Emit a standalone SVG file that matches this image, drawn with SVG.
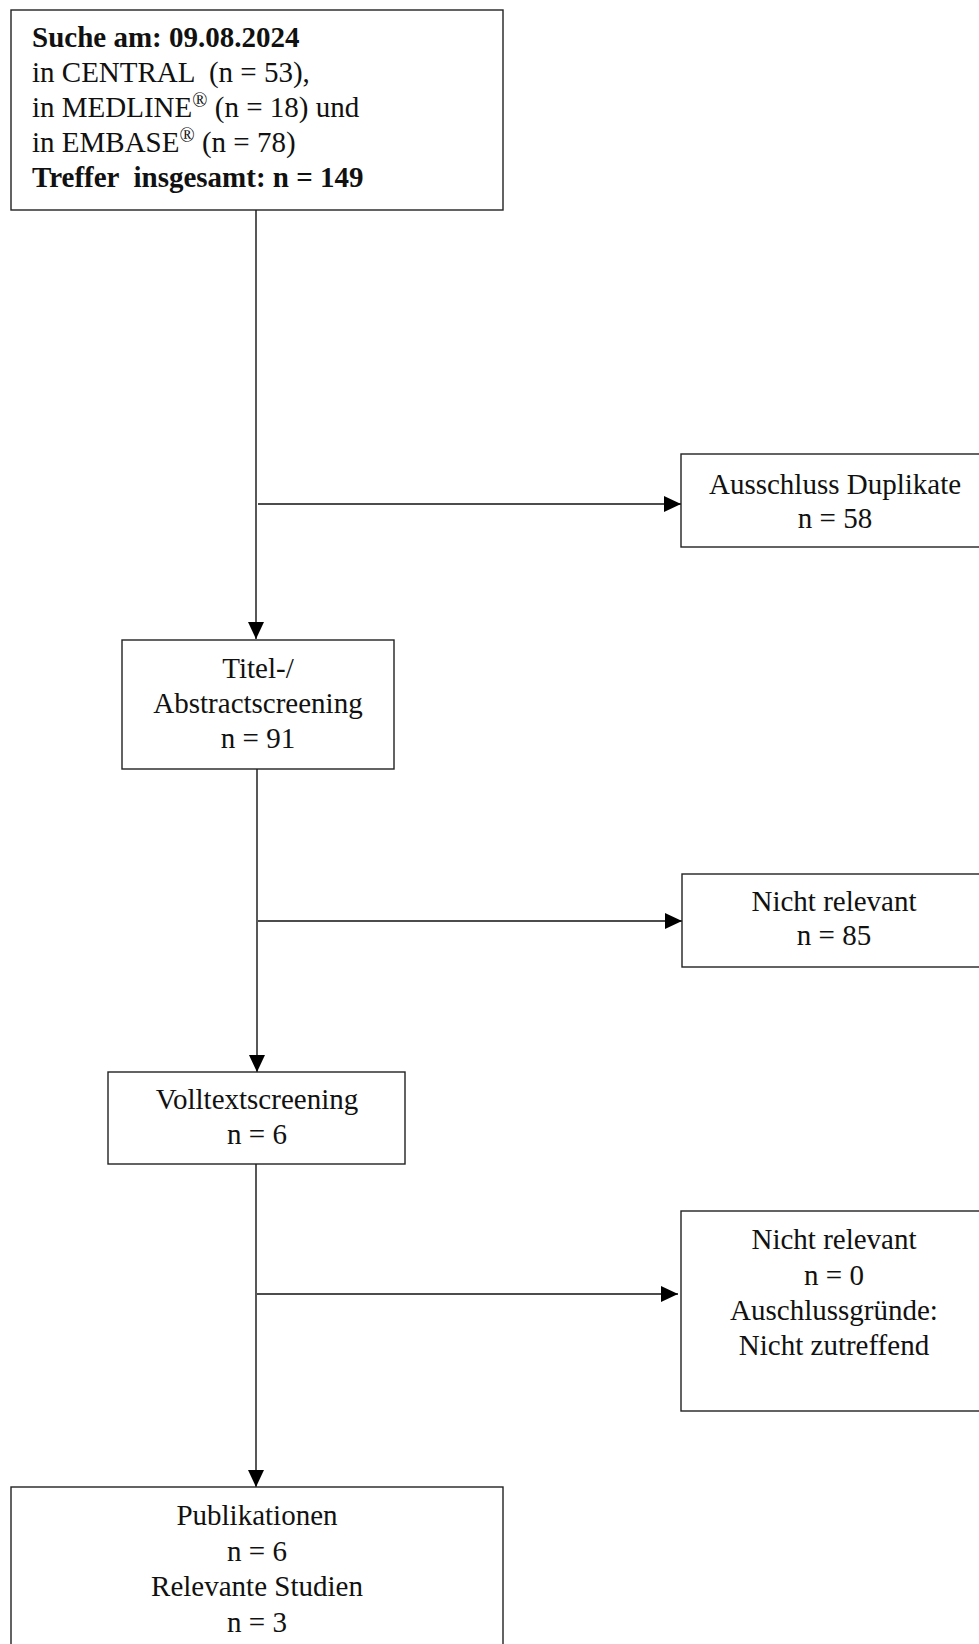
<svg xmlns="http://www.w3.org/2000/svg" width="979" height="1644" viewBox="0 0 979 1644">
<style>
.box{fill:#fff;stroke:#222;stroke-width:1.4}
.t{font-family:"Liberation Serif","Times New Roman",serif;font-size:29px;fill:#111;white-space:pre}
.c{text-anchor:middle}
.b{font-weight:bold}
.sup{font-size:20px}
.ln{stroke:#111;stroke-width:1.4;fill:none}
</style>
<defs>
<marker id="ah" viewBox="0 0 17 16" refX="17" refY="8" markerWidth="17" markerHeight="16" markerUnits="userSpaceOnUse" orient="auto">
<path d="M0,0 L17,8 L0,16 Z" fill="#000"/>
</marker>
</defs>
<g id="connectors">
<path class="ln" d="M256,210 V639" marker-end="url(#ah)"/>
<path class="ln" d="M258,504 H681" marker-end="url(#ah)"/>
<path class="ln" d="M257,769 V1072" marker-end="url(#ah)"/>
<path class="ln" d="M258,921 H682" marker-end="url(#ah)"/>
<path class="ln" d="M256,1164 V1487" marker-end="url(#ah)"/>
<path class="ln" d="M257,1294 H678" marker-end="url(#ah)"/>
</g>
<g id="search">
<rect class="box" x="11" y="10" width="492" height="200"/>
<text class="t b" x="32" y="47">Suche am: 09.08.2024</text>
<text class="t" x="32" y="82">in CENTRAL  (n = 53),</text>
<text class="t" x="32" y="117">in MEDLINE<tspan class="sup" dy="-10">®</tspan><tspan dy="10"> (n = 18) und</tspan></text>
<text class="t" x="32" y="152">in EMBASE<tspan class="sup" dy="-10">®</tspan><tspan dy="10"> (n = 78)</tspan></text>
<text class="t b" x="32" y="187">Treffer  insgesamt: n = 149</text>
</g>
<g id="duplicates">
<rect class="box" x="681" y="454" width="310" height="93"/>
<text class="t c" x="835" y="494">Ausschluss Duplikate</text>
<text class="t c" x="835" y="528">n = 58</text>
</g>
<g id="title-screening">
<rect class="box" x="122" y="640" width="272" height="129"/>
<text class="t c" x="258" y="678">Titel-/</text>
<text class="t c" x="258" y="713">Abstractscreening</text>
<text class="t c" x="258" y="748">n = 91</text>
</g>
<g id="excluded-1">
<rect class="box" x="682" y="874" width="310" height="93"/>
<text class="t c" x="834" y="911">Nicht relevant</text>
<text class="t c" x="834" y="945">n = 85</text>
</g>
<g id="fulltext-screening">
<rect class="box" x="108" y="1072" width="297" height="92"/>
<text class="t c" x="257" y="1109">Volltextscreening</text>
<text class="t c" x="257" y="1144">n = 6</text>
</g>
<g id="excluded-2">
<rect class="box" x="681" y="1211" width="310" height="200"/>
<text class="t c" x="834" y="1249">Nicht relevant</text>
<text class="t c" x="834" y="1285">n = 0</text>
<text class="t c" x="834" y="1320">Auschlussgründe:</text>
<text class="t c" x="834" y="1355">Nicht zutreffend</text>
</g>
<g id="publications">
<rect class="box" x="11" y="1487" width="492" height="170"/>
<text class="t c" x="257" y="1525">Publikationen</text>
<text class="t c" x="257" y="1561">n = 6</text>
<text class="t c" x="257" y="1596">Relevante Studien</text>
<text class="t c" x="257" y="1632">n = 3</text>
</g>
</svg>
